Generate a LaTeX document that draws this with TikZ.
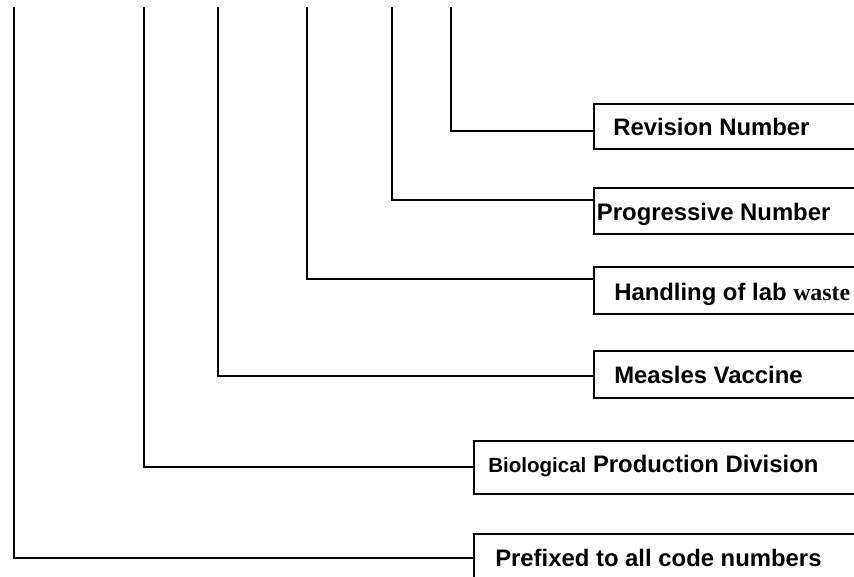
\documentclass[tikz,border=0pt]{standalone}
\usepackage{fontspec}
\setmainfont{Liberation Sans}
\newfontfamily\timesfont{Liberation Serif}
\usetikzlibrary{calc}
\tikzset{
  box/.style={draw, line width=1.5pt, rectangle, inner sep=0pt, anchor=north west, minimum width=300},
  lbl/.style={anchor=base west, inner sep=0pt, font=\fontsize{17.9}{20}\selectfont\bfseries},
  conn/.style={line width=1.5pt},
}
\begin{document}
\begin{tikzpicture}[x=0.75pt,y=-0.75pt]
\useasboundingbox (0,0) rectangle (854,576);
\clip (0,0) rectangle (854,576);
% tops of the vertical lines
\coordinate (t1) at (451,7);
\coordinate (t2) at (391.5,7);
\coordinate (t3) at (307,7);
\coordinate (t4) at (218.3,7);
\coordinate (t5) at (144,7);
\coordinate (t6) at (14,7);
% boxes
\node[box, minimum height=45.6*0.75pt] (rev) at (592.7,102.7) {};
\node[box, minimum height=46*0.75pt] (prog) at (592.7,186.7) {};
\node[box, minimum height=46.7*0.75pt] (hand) at (592.7,266) {};
\node[box, minimum height=46.7*0.75pt] (meas) at (592.7,350) {};
\node[box, minimum height=53*0.75pt, minimum width=420] (bio) at (473,440) {};
\node[box, minimum height=60*0.75pt, minimum width=420] (pref) at (473,533) {};
% labels
\node[lbl] (lrev) at (613,135) {Revision Number};
\node[lbl] (lprog) at (596.7,220) {Progressive Number};
\node[lbl] (lhand) at (614,300) {Handling of lab {\timesfont waste}};
\node[lbl] (lmeas) at (614,383.3) {Measles Vaccine};
\node[lbl] (lbio) at (488,472.3) {{\fontsize{15.4}{18}\selectfont Biological} Production Division};
\node[lbl] (lpref) at (495,566.7) {Prefixed to all code numbers};
% connectors
\draw[conn] (t1) |- ($(rev.north west)+(0,28)$);
\draw[conn] (t2) |- ($(prog.north west)+(0,13.3)$);
\draw[conn] (t3) |- ($(hand.north west)+(0,13.3)$);
\draw[conn] (t4) |- ($(meas.north west)+(0,26)$);
\draw[conn] (t5) |- ($(bio.north west)+(0,26.7)$);
\draw[conn] (t6) |- ($(pref.north west)+(0,24.7)$);
\end{tikzpicture}
\end{document}
